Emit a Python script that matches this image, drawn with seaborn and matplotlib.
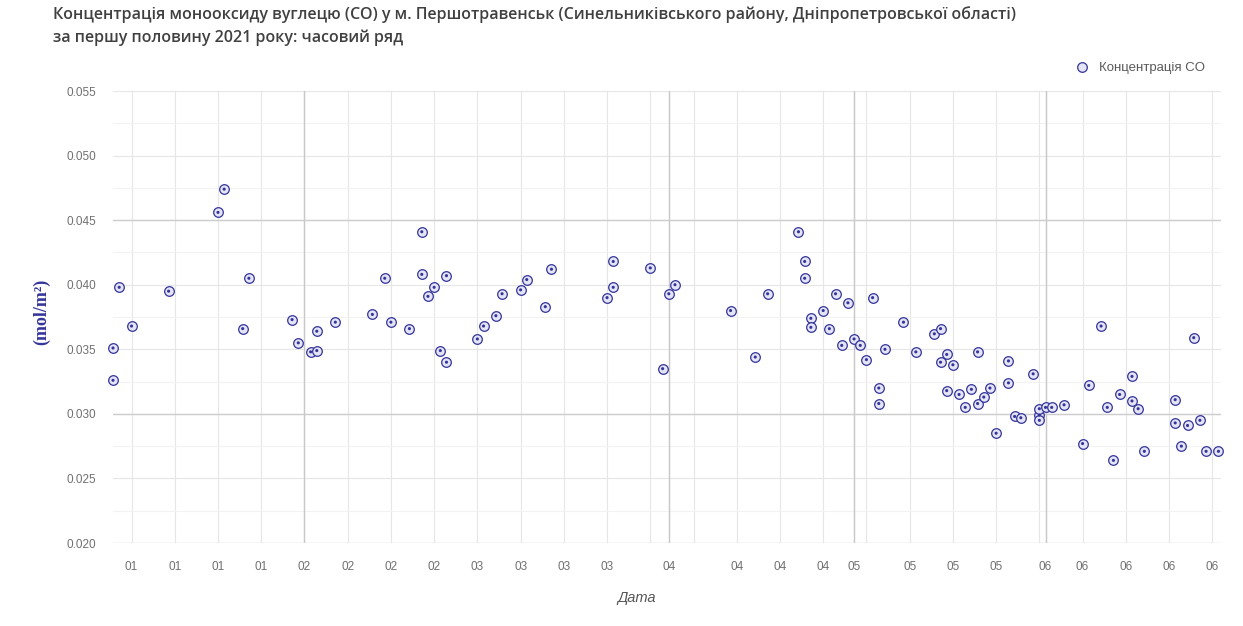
import matplotlib
matplotlib.use("Agg")
import matplotlib.pyplot as plt
import matplotlib.ticker as mticker
import pandas as pd
import seaborn as sns

dates = [
    "2021-01-01", "2021-01-01", "2021-01-02", "2021-01-04", "2021-01-10",
    "2021-01-18", "2021-01-19", "2021-01-22", "2021-01-23", "2021-01-30",
    "2021-01-31", "2021-02-02", "2021-02-03", "2021-02-03", "2021-02-06",
    "2021-02-12", "2021-02-14", "2021-02-15", "2021-02-18", "2021-02-20",
    "2021-02-20", "2021-02-21", "2021-02-22", "2021-02-23", "2021-02-24",
    "2021-02-24", "2021-03-01", "2021-03-02", "2021-03-04", "2021-03-05",
    "2021-03-08", "2021-03-09", "2021-03-12", "2021-03-13", "2021-03-22",
    "2021-03-23", "2021-03-23", "2021-03-29", "2021-03-31", "2021-04-01",
    "2021-04-02", "2021-04-11", "2021-04-15", "2021-04-17", "2021-04-22",
    "2021-04-23", "2021-04-23", "2021-04-24", "2021-04-24", "2021-04-26",
    "2021-04-27", "2021-04-28", "2021-04-29", "2021-04-30", "2021-05-01",
    "2021-05-02", "2021-05-03", "2021-05-04", "2021-05-05", "2021-05-05",
    "2021-05-06", "2021-05-09", "2021-05-11", "2021-05-14", "2021-05-15",
    "2021-05-15", "2021-05-16", "2021-05-16", "2021-05-17", "2021-05-18",
    "2021-05-19", "2021-05-20", "2021-05-21", "2021-05-21", "2021-05-22",
    "2021-05-23", "2021-05-24", "2021-05-26", "2021-05-26", "2021-05-27",
    "2021-05-28", "2021-05-30", "2021-05-31", "2021-05-31", "2021-05-31",
    "2021-06-01", "2021-06-02", "2021-06-04", "2021-06-07", "2021-06-08",
    "2021-06-10", "2021-06-11", "2021-06-12", "2021-06-13", "2021-06-15",
    "2021-06-15", "2021-06-16", "2021-06-17", "2021-06-22", "2021-06-22",
    "2021-06-23", "2021-06-24", "2021-06-25", "2021-06-26", "2021-06-27",
    "2021-06-29",
]
co_values = [
    0.0351, 0.0326, 0.0398, 0.0368, 0.0395,
    0.0456, 0.0474, 0.0366, 0.0405, 0.0373,
    0.0355, 0.0348, 0.0349, 0.0364, 0.0371,
    0.0377, 0.0405, 0.0371, 0.0366, 0.0441,
    0.0408, 0.0391, 0.0398, 0.0349, 0.0340,
    0.0407, 0.0358, 0.0368, 0.0376, 0.0393,
    0.0396, 0.0404, 0.0383, 0.0412, 0.0390,
    0.0398, 0.0418, 0.0413, 0.0335, 0.0393,
    0.0400, 0.0380, 0.0344, 0.0393, 0.0441,
    0.0418, 0.0405, 0.0374, 0.0367, 0.0380,
    0.0366, 0.0393, 0.0353, 0.0386, 0.0358,
    0.0353, 0.0342, 0.0390, 0.0320, 0.0308,
    0.0350, 0.0371, 0.0348, 0.0362, 0.0366,
    0.0340, 0.0346, 0.0318, 0.0338, 0.0315,
    0.0305, 0.0319, 0.0348, 0.0308, 0.0313,
    0.0320, 0.0285, 0.0341, 0.0324, 0.0298,
    0.0297, 0.0331, 0.0299, 0.0295, 0.0304,
    0.0305, 0.0305, 0.0307, 0.0277, 0.0322,
    0.0368, 0.0305, 0.0264, 0.0315, 0.0329,
    0.0310, 0.0304, 0.0271, 0.0311, 0.0293,
    0.0275, 0.0291, 0.0359, 0.0295, 0.0271,
    0.0271,
]

# поділки осі X (понеділки + початок місяця); підписи, що не вмістились, порожні
tick_dates = [
    "2021-01-04", "2021-01-11", "2021-01-18", "2021-01-25",
    "2021-02-01", "2021-02-08", "2021-02-15", "2021-02-22",
    "2021-03-01", "2021-03-08", "2021-03-15", "2021-03-22", "2021-03-29",
    "2021-04-01", "2021-04-05", "2021-04-12", "2021-04-19", "2021-04-26",
    "2021-05-01", "2021-05-03", "2021-05-10", "2021-05-17", "2021-05-24", "2021-05-31",
    "2021-06-01", "2021-06-07", "2021-06-14", "2021-06-21", "2021-06-28",
]
tick_labels = [
    "01", "01", "01", "01",
    "02", "02", "02", "02",
    "03", "03", "03", "03", "",
    "04", "", "04", "04", "04",
    "05", "", "05", "05", "05", "",
    "06", "06", "06", "06", "06",
]
month_lines = ["2021-02-01", "2021-04-01", "2021-05-01", "2021-06-01"]

df = pd.DataFrame({"date": pd.to_datetime(dates), "co": co_values})

sns.set_style("white")
plt.rcParams["font.family"] = ["Liberation Sans", "DejaVu Sans"]

fig = plt.figure(figsize=(12.43, 6.26), dpi=100)
ax = fig.add_axes([113 / 1243, 1 - 543 / 626, (1221 - 113) / 1243, (543 - 91) / 626])

navy = "#34349a"
sns.scatterplot(data=df, x="date", y="co", ax=ax, s=48, marker="o",
                facecolor="#e4e4f6", edgecolor=navy, linewidth=0.9,
                label="Концентрація CO", clip_on=False, zorder=3)
sns.scatterplot(data=df, x="date", y="co", ax=ax, s=5, color=navy,
                edgecolor="none", clip_on=False, zorder=4, legend=False)

ax.set_xlim(pd.Timestamp("2021-01-01"), pd.Timestamp("2021-06-29 10:00"))
ax.set_ylim(0.020, 0.055)

ax.set_xticks(pd.to_datetime(tick_dates))
ax.set_xticklabels(tick_labels)
ax.yaxis.set_major_locator(mticker.MultipleLocator(0.005))
ax.yaxis.set_minor_locator(mticker.MultipleLocator(0.0025))
ax.yaxis.set_major_formatter(mticker.FormatStrFormatter("%.3f"))

ax.grid(True, which="major", axis="both", color="#e6e6e6", lw=0.8)
ax.grid(True, which="minor", axis="y", color="#f2f2f2", lw=0.8)
for d in month_lines:
    ax.axvline(pd.Timestamp(d), color="#c8c8c8", lw=1.0, zorder=1)
for v in [0.030, 0.045]:
    ax.axhline(v, color="#cdcdcd", lw=1.0, zorder=1)
ax.axhline(0.020, color="#dadada", lw=1.0, zorder=1)
ax.set_axisbelow(True)

for side in ["top", "right", "left", "bottom"]:
    ax.spines[side].set_visible(False)
ax.tick_params(axis="both", which="both", length=0, labelsize=8.5, labelcolor="#707070")
ax.tick_params(axis="y", pad=12)
ax.tick_params(axis="x", pad=13)
ax.set_xlabel("")
ax.set_ylabel("")

leg = ax.legend(loc="upper right", bbox_to_anchor=(1210 / 1243, 1 - 56 / 626),
                bbox_transform=fig.transFigure, frameon=False, fontsize=9.5,
                handletextpad=0.3, borderaxespad=0)
for t in leg.get_texts():
    t.set_color("#5a5a5a")

title_font = ["Open Sans", "DejaVu Sans"]
fig.text(53 / 1243, 1 - 15 / 626,
         "Концентрація монооксиду вуглецю (CO) у м. Першотравенськ (Синельниківського району, Дніпропетровської області)",
         fontsize=11.5, fontweight="semibold", color="#404040", va="center", family=title_font)
fig.text(53 / 1243, 1 - 38 / 626, "за першу половину 2021 року: часовий ряд",
         fontsize=11.5, fontweight="semibold", color="#404040", va="center", family=title_font)

fig.text(42 / 1243, 1 - 312 / 626, "(mol/m²)", rotation=90, ha="center", va="center",
         fontsize=13, fontweight="bold", color=navy, family=["Liberation Serif", "DejaVu Serif"])
fig.text(637 / 1243, 1 - 598 / 626, "Дата", ha="center", va="center",
         fontsize=10.5, style="italic", color="#555555")

fig.savefig("out.png", dpi=100)
